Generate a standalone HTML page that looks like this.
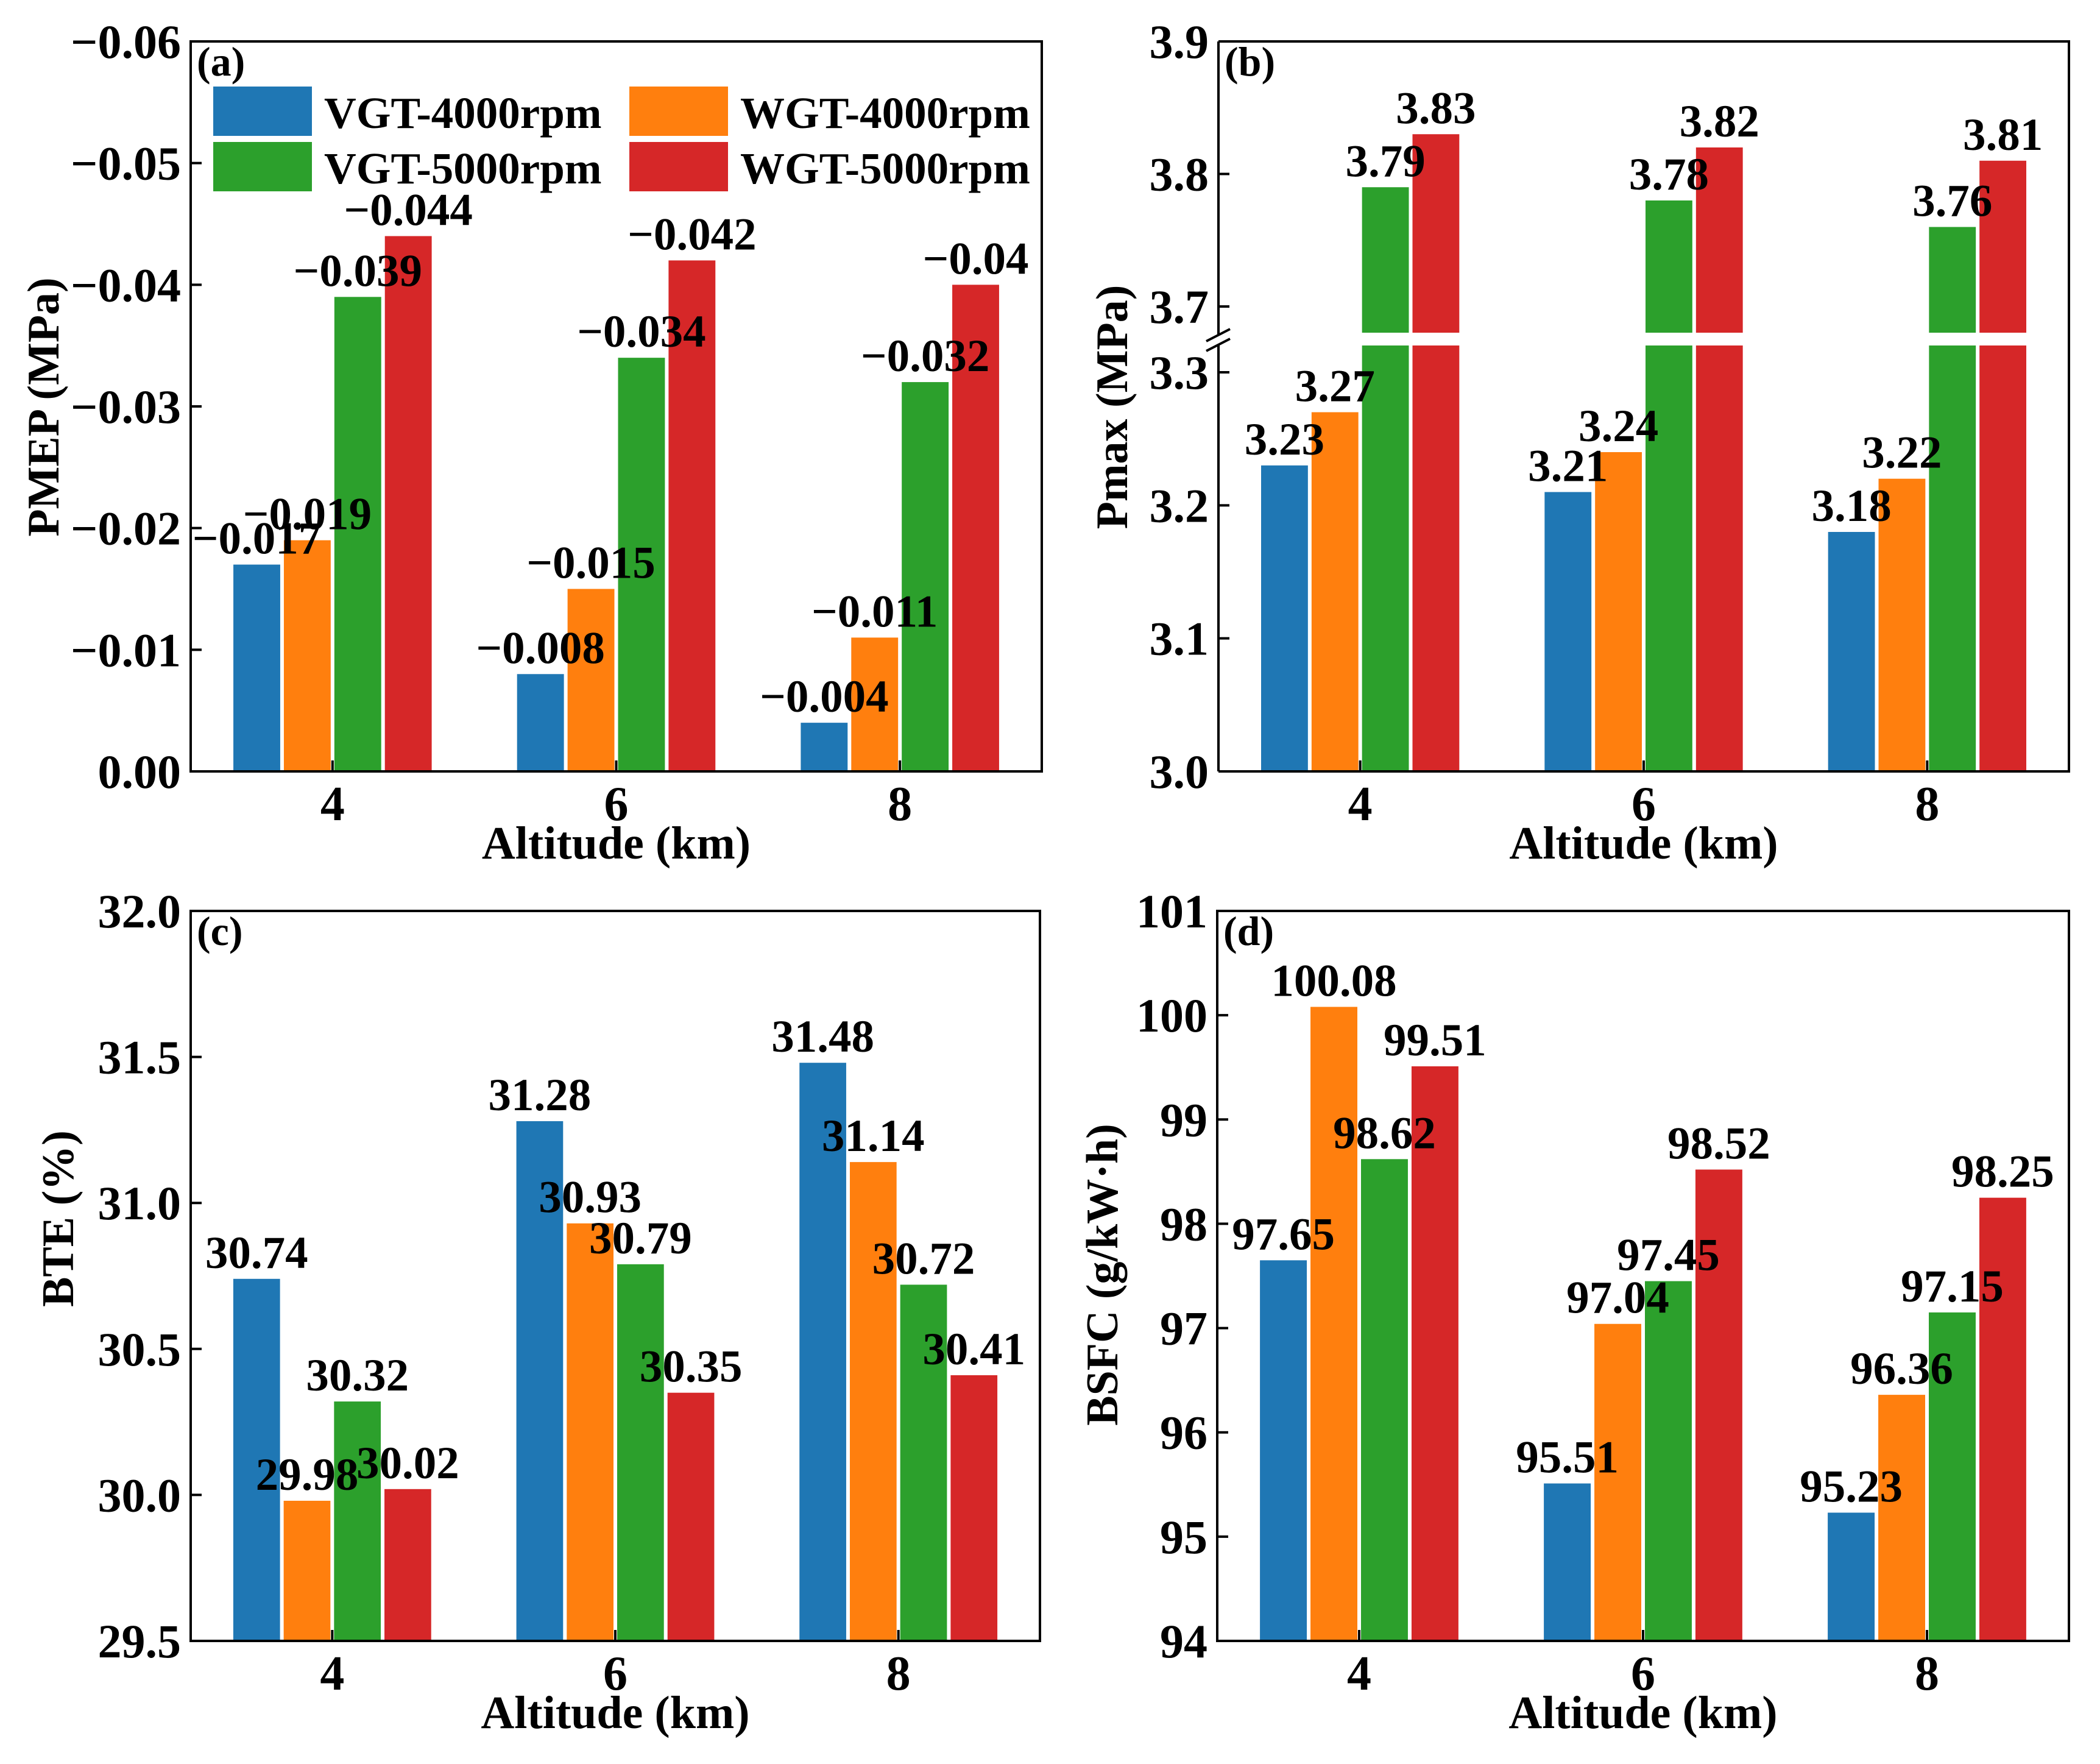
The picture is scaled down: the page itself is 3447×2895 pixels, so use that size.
<!DOCTYPE html>
<html><head><meta charset="utf-8"><style>
html,body{margin:0;padding:0;background:#fff;}
svg{display:block;font-family:"Liberation Serif",serif;font-weight:bold;}
</style></head><body>
<svg id="fig" width="3447" height="2895" viewBox="0 0 3447 2895" xmlns="http://www.w3.org/2000/svg">
<rect x="0" y="0" width="3447" height="2895" fill="#fff"/>
</svg>
<script>
const categories = ["4","6","8"];
const seriesNames = ["VGT-4000rpm","WGT-4000rpm","VGT-5000rpm","WGT-5000rpm"];
const colors = ["#1f77b4","#ff7f0e","#2ca02c","#d62728"];
// (a) PMEP
const pmepVGT4000 = [-0.017,-0.008,-0.004];
const pmepWGT4000 = [-0.019,-0.015,-0.011];
const pmepVGT5000 = [-0.039,-0.034,-0.032];
const pmepWGT5000 = [-0.044,-0.042,-0.04];
const pmepTicks = [0,-0.01,-0.02,-0.03,-0.04,-0.05,-0.06];
const pmepTickLabels = ["0.00","\u22120.01","\u22120.02","\u22120.03","\u22120.04","\u22120.05","\u22120.06"];
// (b) Pmax
const pmaxVGT4000 = [3.23,3.21,3.18];
const pmaxWGT4000 = [3.27,3.24,3.22];
const pmaxVGT5000 = [3.79,3.78,3.76];
const pmaxWGT5000 = [3.83,3.82,3.81];
const pmaxLowTicks = [3.0,3.1,3.2,3.3];
const pmaxHighTicks = [3.7,3.8,3.9];
// (c) BTE
const bteVGT4000 = [30.74,31.28,31.48];
const bteWGT4000 = [29.98,30.93,31.14];
const bteVGT5000 = [30.32,30.79,30.72];
const bteWGT5000 = [30.02,30.35,30.41];
const bteTicks = [29.5,30.0,30.5,31.0,31.5,32.0];
// (d) BSFC
const bsfcVGT4000 = [97.65,95.51,95.23];
const bsfcWGT4000 = [100.08,97.04,96.36];
const bsfcVGT5000 = [98.62,97.45,97.15];
const bsfcWGT5000 = [99.51,98.52,98.25];
const bsfcTicks = [94,95,96,97,98,99,100,101];

const NS="http://www.w3.org/2000/svg";
const svg=document.getElementById('fig');
function mk(tag,attrs,parent){const e=document.createElementNS(NS,tag);for(const k in attrs)e.setAttribute(k,attrs[k]);(parent||svg).appendChild(e);return e;}
function fmt(v){return String(v).replace('-','\u2212');}

function panel(o){
  const g=mk('g',{});
  
  
  const L=o.left,R=o.right,T=o.top,B=o.bottom;
  const gw=(R-L)/3;
  const xc=i=>L+gw*(i+0.5);
  const bw=gw*0.178;
  const sets=o.series;
  sets.forEach((vals,s)=>{
    vals.forEach((v,i)=>{
      const cx=xc(i)+(s-1.5)*bw;
      const segs=o.segments(v);
      segs.forEach(sg=>{
        const r=mk('rect',{x:cx-bw/2+3,y:sg[0],width:bw-6,height:sg[1]-sg[0],fill:colors[s]},g);
        
        
      });
    });
  });
  sets.forEach((vals,s)=>{
    vals.forEach((v,i)=>{
      const cx=xc(i)+(s-1.5)*bw;
      const t=mk('text',{x:cx,y:o.y(v)-18,'text-anchor':'middle','font-size':75,fill:'#000'},g);
      t.textContent=fmt(v);
      
      
    });
  });
  o.ticks.forEach((tk,j)=>{
    const y=o.y(tk);
    mk('line',{x1:L,x2:L+18,y1:y,y2:y,stroke:'#000','stroke-width':4},g);
    const t=mk('text',{x:L-16,y:y+27,'text-anchor':'end','font-size':78,fill:'#000'},g);
    t.textContent=o.tickLabels?o.tickLabels[j]:o.fmtTick(tk);
    
    
  });
  categories.forEach((c,i)=>{
    mk('line',{x1:xc(i),x2:xc(i),y1:B,y2:B-18,stroke:'#000','stroke-width':4},g);
    const t=mk('text',{x:xc(i),y:B+80,'text-anchor':'middle','font-size':80,fill:'#000'},g);
    t.textContent=c;
    
    
  });
  if(o.brk){
    mk('line',{x1:L,x2:L,y1:T,y2:o.brk[0],stroke:'#000','stroke-width':4},g);
    mk('line',{x1:L,x2:L,y1:o.brk[1],y2:B,stroke:'#000','stroke-width':4},g);
    mk('line',{x1:L-20,x2:L+19,y1:o.brk[0]+10,y2:o.brk[0]-10,stroke:'#000','stroke-width':4},g);
    mk('line',{x1:L-20,x2:L+19,y1:o.brk[1]+10,y2:o.brk[1]-10,stroke:'#000','stroke-width':4},g);
    mk('polyline',{points:`${L},${T} ${R},${T} ${R},${B} ${L},${B}`,fill:'none',stroke:'#000','stroke-width':4},g);
  } else {
    mk('rect',{x:L,y:T,width:R-L,height:B-T,fill:'none',stroke:'#000','stroke-width':4},g);
  }
  const pl=mk('text',{x:L+10,y:T+56,'font-size':68,fill:'#000'},g);
  pl.textContent=o.letter;
  
  
  const xl=mk('text',{x:(L+R)/2,y:B+143,'text-anchor':'middle','font-size':76,fill:'#000'},g);
  xl.textContent='Altitude (km)';
  
  
  const yl=mk('text',{x:0,y:0,'text-anchor':'middle','font-size':74,fill:'#000',transform:`translate(${o.ylx},${o.yly}) rotate(-90)`},g);
  yl.textContent=o.ylabel;
  
  
  return g;
}
function lin(d0,d1,r0,r1){return v=>r0+(v-d0)/(d1-d0)*(r1-r0);}

(function(){
  const T=68,B=1266;const y=lin(0,-0.06,B,T);
  panel({name:'panel-a-pmep',letter:'(a)',left:313,right:1710,top:T,bottom:B,y:y,
    series:[pmepVGT4000,pmepWGT4000,pmepVGT5000,pmepWGT5000],
    segments:v=>[[y(v),B]],ticks:pmepTicks,tickLabels:pmepTickLabels,
    ylabel:'PMEP (MPa)',ylx:96,yly:668});
  const lg=mk('g',{});
  
  
  const pos=[[350,142],[1033,142],[350,233],[1033,233]];
  seriesNames.forEach((n,s)=>{
    const p=pos[s];
    const r=mk('rect',{x:p[0],y:p[1],width:162,height:81,fill:colors[s]},lg);
    
    
    const t=mk('text',{x:p[0]+182,y:p[1]+68,'font-size':73,fill:'#000'},lg);
    t.textContent=n;
    
    
  });
})();
(function(){
  const T=68,B=1266;
  const yl=lin(3.0,3.3,B,611), yh=lin(3.7,3.9,503,T);
  const bLow=567,bHigh=546;
  const y=v=>v>3.5?yh(v):yl(v);
  panel({name:'panel-b-pmax',letter:'(b)',left:2000,right:3396,top:T,bottom:B,y:y,
    series:[pmaxVGT4000,pmaxWGT4000,pmaxVGT5000,pmaxWGT5000],
    segments:v=>v>3.5?[[yh(v),bHigh],[bLow,B]]:[[yl(v),B]],
    ticks:pmaxLowTicks.concat(pmaxHighTicks),fmtTick:v=>v.toFixed(1),
    brk:[550,566],ylabel:'Pmax (MPa)',ylx:1850,yly:668});
})();
(function(){
  const T=1495,B=2693;const y=lin(29.5,32.0,B,T);
  panel({name:'panel-c-bte',letter:'(c)',left:313,right:1707,top:T,bottom:B,y:y,
    series:[bteVGT4000,bteWGT4000,bteVGT5000,bteWGT5000],
    segments:v=>[[y(v),B]],ticks:bteTicks,fmtTick:v=>v.toFixed(1),
    ylabel:'BTE (%)',ylx:120,yly:2000});
})();
(function(){
  const T=1495,B=2693;const y=lin(94,101,B,T);
  panel({name:'panel-d-bsfc',letter:'(d)',left:1998,right:3396,top:T,bottom:B,y:y,
    series:[bsfcVGT4000,bsfcWGT4000,bsfcVGT5000,bsfcWGT5000],
    segments:v=>[[y(v),B]],ticks:bsfcTicks,fmtTick:v=>String(v),
    ylabel:'BSFC (g/kW\u00b7h)',ylx:1834,yly:2092});
})();
</script>
</body></html>
